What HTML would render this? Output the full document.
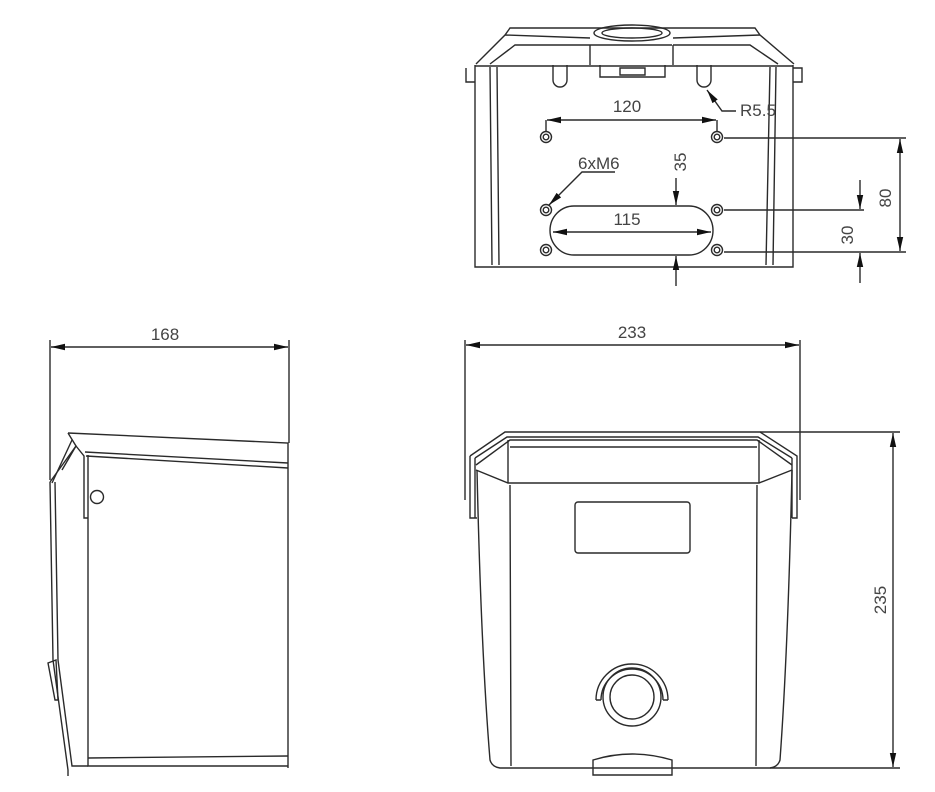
<!DOCTYPE html>
<html><head><style>
html,body{margin:0;padding:0;background:#fff;}
svg{display:block;}
text{font-family:"Liberation Sans",sans-serif;fill:#444;font-size:17px;}
</style></head><body>
<svg width="935" height="792" viewBox="0 0 935 792" xmlns="http://www.w3.org/2000/svg">
<defs>
<marker id="a" viewBox="0 0 14 7" refX="14" refY="3.5" markerWidth="14" markerHeight="7" markerUnits="userSpaceOnUse" orient="auto-start-reverse"><path d="M0,0.3L14,3.5L0,6.7z" fill="#111"/></marker>
</defs>
<g fill="none" stroke="#2a2a2a" stroke-width="1.4">
<!-- ===== TOP VIEW ===== -->
<path d="M475,65 L475,267 L793,267 L793,65"/>
<path d="M475,66 L793,66"/>
<path d="M476,64 L505,35 L510,28 L755,28 L760,35 L794,64"/>
<path d="M490,64 L515,45 L592,45 M673,45 L750,45 L778,64"/>
<path d="M505,35 L590,38 M673,38 L760,35"/>
<path d="M590,45 L590,65 M673,45 L673,65 M592,45 L672,45"/>
<path d="M600,65 L600,77 L665,77 L665,65"/>
<path d="M620,68 L645,68 L645,75 L620,75z"/>
<ellipse cx="632" cy="33" rx="38" ry="8"/>
<ellipse cx="632" cy="33" rx="30" ry="5"/>
<path d="M466,68 L466,82 L475,82 M793,68 L802,68 L802,82 L793,82"/>
<path d="M490,67 L492,265 M497,67 L499,265 M770,67 L766,265 M776,67 L773,265"/>
<path d="M553,65 L553,80 A7,7 0 0 0 567,80 L567,65"/>
<path d="M697,65 L697,80 A7,7 0 0 0 711,80 L711,65"/>
<g>
<circle cx="546" cy="137" r="5.5"/><circle cx="546" cy="137" r="2.8"/>
<circle cx="717" cy="137" r="5.5"/><circle cx="717" cy="137" r="2.8"/>
<circle cx="546" cy="210" r="5.5"/><circle cx="546" cy="210" r="2.8"/>
<circle cx="717" cy="210" r="5.5"/><circle cx="717" cy="210" r="2.8"/>
<circle cx="546" cy="250" r="5.5"/><circle cx="546" cy="250" r="2.8"/>
<circle cx="717" cy="250" r="5.5"/><circle cx="717" cy="250" r="2.8"/>
</g>
<path d="M574,206 L689,206 A24,24.5 0 0 1 689,255 L574,255 A24,24.5 0 0 1 574,206z"/>
<!-- dims top -->
<path d="M546,132 L546,120 M717,132 L717,120"/>
<path d="M547,120 L716,120" marker-start="url(#a)" marker-end="url(#a)"/>
<path d="M553,232 L711,232" marker-start="url(#a)" marker-end="url(#a)"/>
<path d="M676,178 L676,205" marker-end="url(#a)"/>
<path d="M676,286 L676,256" marker-end="url(#a)"/>
<path d="M736,111 L722,111 L707,90" marker-end="url(#a)"/>
<path d="M615,172 L582,172 L549,205" marker-end="url(#a)"/>
<path d="M724,138 L906,138 M724,210 L864,210 M724,252 L906,252"/>
<path d="M900,139 L900,251" marker-start="url(#a)" marker-end="url(#a)"/>
<path d="M860,180 L860,209" marker-end="url(#a)"/>
<path d="M860,283 L860,253" marker-end="url(#a)"/>
<!-- ===== SIDE VIEW ===== -->
<path d="M50,340 L50,480 M289,340 L289,443"/>
<path d="M51,347 L288,347" marker-start="url(#a)" marker-end="url(#a)"/>
<path d="M68,433 L288,443 L288,768"/>
<path d="M85,452 L288,463 M86,456 L288,468"/>
<path d="M68,433 L76,446 L50,482"/>
<path d="M76,446 L84,456 L84,518 L88,518"/>
<path d="M72,440 L52,483 M76,446 L62,470"/>
<path d="M88,455 L88,766 L288,766"/>
<path d="M88,758 L288,756"/>
<path d="M50,482 L53,660 L68,770 L68,776 M55,482 L58,660 L72,766 L88,766"/>
<path d="M48,663 L56,660 L58,700 L55,700z"/>
<circle cx="97" cy="497" r="6.5"/>
<!-- ===== FRONT VIEW ===== -->
<path d="M465,340 L465,500 M800,340 L800,500"/>
<path d="M466,345 L799,345" marker-start="url(#a)" marker-end="url(#a)"/>
<path d="M760,432 L900,432 M770,768 L900,768"/>
<path d="M893,433 L893,767" marker-start="url(#a)" marker-end="url(#a)"/>
<path d="M470,456 L505,432 L760,432 L797,456 L797,518 L792,518"/>
<path d="M475,458 L507,437 L758,437 L792,458"/>
<path d="M470,456 L470,518 L477,518 M475,458 L475,518"/>
<path d="M476,465 L510,440 L757,440 L792,465"/>
<path d="M792,458 L792,518"/>
<path d="M476,470 L508,483 L759,483 L792,470"/>
<path d="M510,447 L757,447"/>
<path d="M508,440 L508,483 M759,440 L759,483"/>
<path d="M477,470 Q481,650 490,760 Q492,767 500,768 L770,768 Q778,767 780,760 Q788,650 792,470"/>
<path d="M510,485 L511,766 M757,485 L756,766"/>
<rect x="575" y="502" width="115" height="51" rx="3"/>
<circle cx="632" cy="697" r="22"/>
<circle cx="632" cy="697" r="29"/>
<path d="M596,700 A36,36 0 0 1 668,700 M601,700 A31,31 0 0 1 663,700"/>
<path d="M596,700 L601,700 M663,700 L668,700"/>
<path d="M593,775 L593,760 Q632,748 672,760 L672,775 Z"/>
</g>
<!-- text -->
<text x="627" y="112" text-anchor="middle">120</text>
<text x="740" y="116">R5.5</text>
<text x="578" y="169">6xM6</text>
<text x="627" y="225" text-anchor="middle">115</text>
<text transform="translate(686,162) rotate(-90)" text-anchor="middle">35</text>
<text transform="translate(891,198) rotate(-90)" text-anchor="middle">80</text>
<text transform="translate(853,235) rotate(-90)" text-anchor="middle">30</text>
<text x="165" y="340" text-anchor="middle">168</text>
<text x="632" y="338" text-anchor="middle">233</text>
<text transform="translate(886,600) rotate(-90)" text-anchor="middle">235</text>
</svg>
</body></html>
